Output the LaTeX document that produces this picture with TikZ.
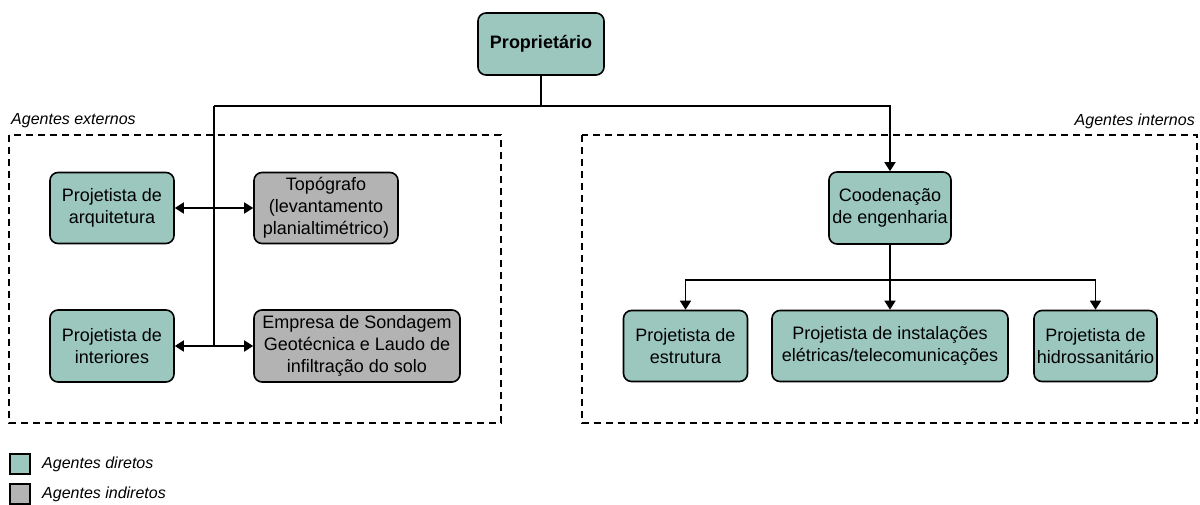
\documentclass[tikz,border=0pt]{standalone}
\usepackage{fontspec}
\setmainfont{Liberation Sans}
\usetikzlibrary{arrows.meta}
\definecolor{teal1}{HTML}{9CC7BF}
\definecolor{grey1}{HTML}{B3B3B3}
\begin{document}
\begin{tikzpicture}[x=1pt,y=-1pt,
  agent/.style={draw=black, line width=1.6pt, rounded corners=8pt, align=center, inner sep=1pt,
    font=\fontsize{18}{22}\selectfont, minimum height=71pt},
  direct/.style={agent, fill=teal1},
  indirect/.style={agent, fill=grey1},
  conn/.style={line width=1.6pt},
  arr/.style={conn, -{Triangle[length=9pt,width=11pt]}},
  darr/.style={conn, {Triangle[length=9pt,width=11pt]}-{Triangle[length=9pt,width=11pt]}},
  group/.style={draw=black, line width=1.5pt, dash pattern=on 7pt off 5pt},
  grouplabel/.style={font=\fontsize{16}{19}\selectfont\itshape, inner sep=0pt},
  legendbox/.style={draw=black, line width=1.5pt, minimum width=20pt, minimum height=20pt, inner sep=0pt}
]
\useasboundingbox (0,0) rectangle (1200,504);

% groups
\draw[group] (9,135) rectangle (501,423);
\draw[group] (582,135) rectangle (1197,423);
\node[grouplabel, anchor=west] (lext) at (11,121) {Agentes externos};
\node[grouplabel, anchor=east] (lint) at (1195,121) {Agentes internos};

% nodes
\node[direct, minimum width=126pt, minimum height=62pt, font=\fontsize{18}{22}\selectfont\bfseries] (prop) at (541,44) {Propriet\'ario};
\node[direct, minimum width=124pt] (arq) at (112,208) {Projetista de\\arquitetura};
\node[indirect, minimum width=144pt] (topo) at (326,208) {Top\'ografo\\(levantamento\\planialtim\'etrico)};
\node[direct, minimum width=124pt, minimum height=72pt] (inte) at (112,346) {Projetista de\\interiores};
\node[indirect, minimum width=206pt, minimum height=72pt] (emp) at (357,346) {Empresa de Sondagem\\Geot\'ecnica e Laudo de\\infiltra\c{c}\~ao do solo};
\node[direct, minimum width=122pt, minimum height=72pt] (coord) at (890,208) {Coodena\c{c}\~ao\\de engenharia};
\node[direct, minimum width=124pt, minimum height=71pt] (estr) at (685.5,346) {Projetista de\\estrutura};
\node[direct, minimum width=236pt, minimum height=71pt] (inst) at (890,346) {Projetista de instala\c{c}\~oes\\el\'etricas/telecomunica\c{c}\~oes};
\node[direct, minimum width=123pt, minimum height=71pt] (hidro) at (1095.5,346) {Projetista de\\hidrossanit\'ario};

% junctions
\coordinate (j1) at (541,106);
\coordinate (jl) at (214,106);
\coordinate (jb) at (214,346);
\coordinate (j2) at (890,280);

% connectors
\draw[conn] (prop.south) -- (j1);
\draw[arr] (jl) -| (coord.north);
\draw[conn] (jl) -- (jb);
\draw[darr] (arq.east) -- (topo.west);
\draw[darr] (inte.east) -- (emp.west);
\draw[arr] (coord.south) -- (inst.north);
\draw[arr] (j2) -| (estr.north);
\draw[arr] (j2) -| (hidro.north);

% legend
\node[legendbox, fill=teal1] (lg1) at (20,464) {};
\node[grouplabel, anchor=west] (lg1t) at (42,464) {Agentes diretos};
\node[legendbox, fill=grey1] (lg2) at (20,494) {};
\node[grouplabel, anchor=west] (lg2t) at (42,494) {Agentes indiretos};
\end{tikzpicture}
\end{document}
